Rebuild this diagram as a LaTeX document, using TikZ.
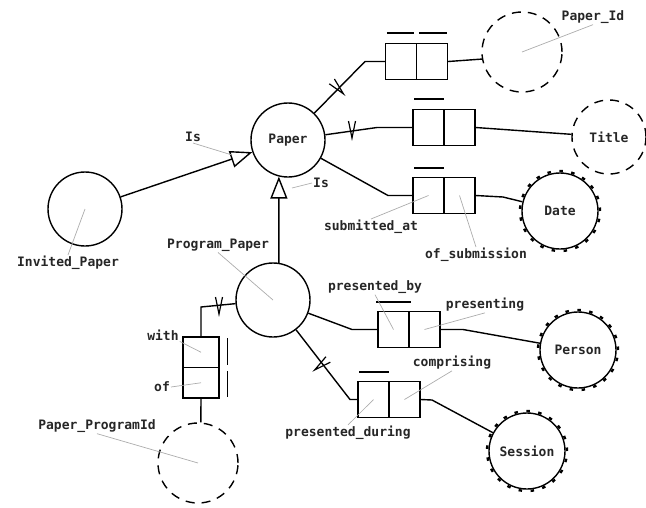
\documentclass[tikz,border=0pt]{standalone}
\usepackage{fontspec}
\setmonofont{DejaVu Sans Mono}
\usetikzlibrary{arrows.meta,calc}
\tikzset{
  every node/.style={font=\ttfamily\bfseries\fontsize{13}{15}\selectfont, text=black!85},
  ent/.style={circle, draw, line width=1.4pt, inner sep=0pt, minimum size=74pt},
  valent/.style={ent, dash pattern=on 9pt off 7pt},
  tickring/.style={line width=2.4pt, dash pattern=on 3.5pt off 8.5pt},
  role/.style={rectangle, draw, line width=1.4pt, inner sep=0pt, minimum width=31pt, minimum height=36pt},
  vrole/.style={rectangle, draw, line width=1.4pt, inner sep=0pt, minimum width=36pt, minimum height=30.5pt},
  ubar/.style={line width=1.4pt},
  conn/.style={line width=1.4pt},
  isa/.style={conn, -{Triangle[open, length=22pt, width=17pt]}},
  leader/.style={gray!65, line width=0.7pt},
  lbl/.style={inner sep=1pt},
  vmark/.pic={\draw[line width=1.2pt] (-3.5,-9) -- (0,8) -- (3.5,-9);}
}
\begin{document}
\begin{tikzpicture}[x=1pt,y=-1pt]
\useasboundingbox (0,0) rectangle (646,507);

% entity types
\node[ent] (paper) at (288,140) {Paper};
\node[ent] (inv) at (85,209) {};
\node[ent] (prog) at (273,300) {};
\node[valent, minimum size=80pt] (pid) at (522,52) {};
\node[valent] (title) at (609,137) {Title};
\node[ent, minimum size=76pt] (date) at (560,211) {Date};
\node[ent, minimum size=76pt] (person) at (578,350) {Person};
\node[ent, minimum size=76pt] (session) at (527,451) {Session};
\node[valent, minimum size=80pt] (ppid) at (198,463) {};
\draw[tickring] (date.center) circle[radius=40pt];
\draw[tickring] (person.center) circle[radius=40pt];
\draw[tickring] (session.center) circle[radius=40pt];

% fact types
\node[role] (pidL) at (401,61.5) {};
\node[role] (pidR) at (432,61.5) {};
\node[role] (titleL) at (428.5,127.5) {};
\node[role] (titleR) at (459.5,127.5) {};
\node[role] (dateL) at (428.5,195.5) {};
\node[role] (dateR) at (459.5,195.5) {};
\node[role] (byL) at (393.5,329.5) {};
\node[role] (byR) at (424.5,329.5) {};
\node[role] (durL) at (373.5,399.5) {};
\node[role] (durR) at (404.5,399.5) {};
\node[vrole] (withT) at (201,352.25) {};
\node[vrole] (withB) at (201,382.75) {};

% uniqueness bars
\draw[ubar] ($(pidL.north west)+(2,-10)$) -- ($(pidL.north east)+(-3,-10)$);
\draw[ubar] ($(pidR.north west)+(3,-10)$) -- ($(pidR.north east)+(-1,-10)$);
\draw[ubar] ($(titleL.north west)+(2,-10)$) -- ($(titleL.north east)+(-1,-10)$);
\draw[ubar] ($(dateL.north west)+(2,-9)$) -- ($(dateL.north east)+(-1,-9)$);
\draw[ubar] ($(byL.north west)+(-1,-9)$) -- ($(byL.north east)+(1,-9)$);
\draw[ubar] ($(durL.north west)+(2,-9)$) -- ($(durL.north east)+(-1,-9)$);
\draw[ubar] ($(withT.north east)+(8,2)$) -- ($(withT.south east)+(8,-3)$);
\draw[ubar] ($(withB.north east)+(8,4)$) -- ($(withB.south east)+(8,-2)$);

% subtype links
\draw[isa] (inv) -- (paper);
\draw[isa] (prog.81) -- (paper.-104);

% role connectors
\draw[conn] (paper) -- (365,61.5) -- (pidL.west);
\draw[conn] (pidR.east) -- (pid.190);
\pic[rotate=43] at (338,88) {vmark};
\draw[conn] (paper) -- (377,127.5) -- (titleL.west);
\draw[conn] (titleR.east) -- (title);
\pic at (352,130) {vmark};
\draw[conn] (paper) -- (388,195.5) -- (dateL.west);
\draw[conn] (dateR.east) -- (503,197) -- (date);
\draw[conn] (withT.north) -- (201,307) -- (prog);
\pic at (219,306) {vmark};
\draw[conn] (withB.south) -- (ppid.86);
\draw[conn] (prog) -- (352,329.5) -- (byL.west);
\draw[conn] (byR.east) -- (463,329.5) -- (person);
\draw[conn] (prog) -- (350,399.5) -- (durL.west);
\pic[rotate=-52] at (321,365) {vmark};
\draw[conn] (durR.east) -- (432,400) -- (session);

% labels
\node[lbl] (is1) at (193,137) {Is};
\node[lbl] (is2) at (321,183) {Is};
\node[lbl] (linv) at (68,263) {Invited\_Paper};
\node[lbl] (lprog) at (218,245) {Program\_Paper};
\node[lbl] (lpid) at (593,17) {Paper\_Id};
\node[lbl] (lsub) at (371,227) {submitted\_at};
\node[lbl] (lofs) at (476,255) {of\_submission};
\node[lbl] (lby) at (375,287) {presented\_by};
\node[lbl] (lpres) at (485,305) {presenting};
\node[lbl] (lcomp) at (452,363) {comprising};
\node[lbl] (ldur) at (348,433) {presented\_during};
\node[lbl] (lwith) at (163,335) {with};
\node[lbl] (lof) at (162,387) {of};
\node[lbl] (lppid) at (97,426) {Paper\_ProgramId};

% leaders
\coordinate (isa1) at (232,155);
\coordinate (isa2) at (292,188);
\draw[leader] (is1.south) -- (isa1);
\draw[leader] (is2.west) -- (isa2);
\draw[leader] (linv.north) -- (inv.center);
\draw[leader] (lprog.south) -- (prog.center);
\draw[leader] (lpid.south) -- (pid.center);
\draw[leader] (lsub.north) -- (dateL.center);
\draw[leader] (lofs.north) -- (dateR.center);
\draw[leader] (lby.south) -- (byL.center);
\draw[leader] (lpres.south) -- (byR.center);
\draw[leader] (lcomp.south) -- (durR.center);
\draw[leader] (ldur.north) -- (durL.center);
\draw[leader] (lwith.south east) -- (withT.center);
\draw[leader] (lof.east) -- (withB.center);
\draw[leader] (lppid.south) -- (ppid.center);
\end{tikzpicture}
\end{document}
